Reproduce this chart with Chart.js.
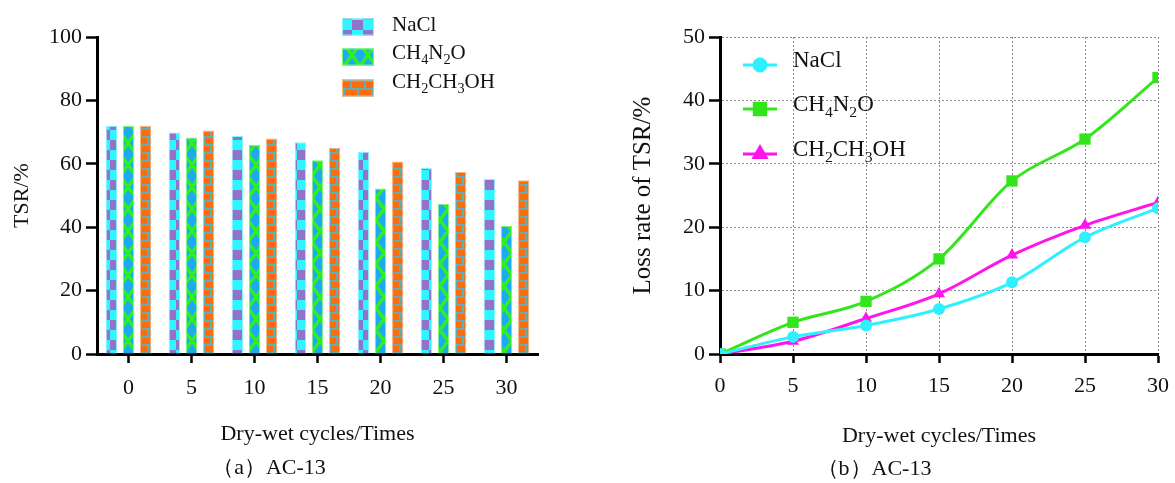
<!DOCTYPE html>
<html>
<head>
<meta charset="utf-8">
<script src="https://cdn.jsdelivr.net/npm/chart.js@4.4.0/dist/chart.umd.min.js"></script>
<style>
  body { margin: 0; background: #fff; width: 1175px; height: 483px; overflow: hidden; position: relative; }
  #tsrChart { position: absolute; left: 0; top: 0; }
  #lossChart { position: absolute; left: 590px; top: 0; }
</style>
</head>
<body>
<canvas id="tsrChart" width="590" height="483"></canvas>
<canvas id="lossChart" width="585" height="483"></canvas>
<script>
// dry-wet cycles
const cycles = ['0', '5', '10', '15', '20', '25', '30'];
const cycleNums = [0, 5, 10, 15, 20, 25, 30];
const seriesNames = ['NaCl', 'CH4N2O', 'CH2CH3OH'];

// (a) TSR/%
const tsrNaCl = [72.0, 69.9, 68.8, 66.8, 63.8, 58.7, 55.3];
const tsrUrea = [72.0, 68.3, 66.0, 61.1, 52.2, 47.4, 40.4];
const tsrEthanol = [72.0, 70.5, 68.0, 65.1, 60.7, 57.4, 54.8];
const tsrTicks = [0, 20, 40, 60, 80, 100];

// (b) loss rate of TSR/%
const lossNaCl = [0, 2.7, 4.5, 7.1, 11.3, 18.4, 23.0];
const lossUrea = [0, 5.0, 8.3, 15.0, 27.3, 33.9, 43.6];
const lossEthanol = [0, 2.0, 5.6, 9.5, 15.6, 20.3, 23.9];
const lossTicks = [0, 10, 20, 30, 40, 50];

const FONT = '"Liberation Serif", "Times New Roman", serif';
const INK = '#111';

function makePattern(w, h, draw) {
  const c = document.createElement('canvas');
  c.width = w; c.height = h;
  const g = c.getContext('2d');
  draw(g, w, h);
  return document.getElementById('tsrChart').getContext('2d').createPattern(c, 'repeat');
}

const patNaCl = makePattern(22, 20, (g) => {
  g.fillStyle = '#2ef6ff'; g.fillRect(0, 0, 22, 20);
  g.fillStyle = '#9372c9';
  g.fillRect(0, 0, 11, 10);
  g.fillRect(11, 10, 11, 10);
});
const patUrea = makePattern(16, 22, (g) => {
  g.fillStyle = '#2ef01e'; g.fillRect(0, 0, 16, 22);
  g.fillStyle = '#1eaaf2';
  const dia = (cx, cy) => {
    g.beginPath();
    g.moveTo(cx, cy - 8); g.lineTo(cx + 6, cy); g.lineTo(cx, cy + 8); g.lineTo(cx - 6, cy);
    g.closePath(); g.fill();
  };
  dia(8, 11); dia(0, 0); dia(16, 0); dia(0, 22); dia(16, 22);
});
const patEthanol = makePattern(14, 16, (g) => {
  g.fillStyle = '#ff6a0d'; g.fillRect(0, 0, 14, 16);
  g.fillStyle = '#5fb0b0';
  g.fillRect(0, 0, 14, 2);
  g.fillRect(0, 8, 14, 2);
  g.fillRect(0, 0, 2, 8);
  g.fillRect(7, 8, 2, 8);
});

// chemical formula with subscript digits
function drawFormula(ctx, text, x, y, size) {
  let cx = x;
  const parts = text.match(/\d+|\D+/g);
  parts.forEach(p => {
    const sub = /\d/.test(p);
    ctx.font = (sub ? size * 0.68 : size) + 'px ' + FONT;
    ctx.fillText(p, cx, sub ? y + size * 0.24 : y);
    cx += ctx.measureText(p).width;
  });
}

const barLegend = {
  id: 'barLegend',
  afterDraw(chart) {
    const ctx = chart.ctx;
    const rows = [27, 57, 88];
    const base = [31, 59, 88];
    ctx.save();
    chart.data.datasets.forEach((ds, i) => {
      ctx.fillStyle = ds.backgroundColor;
      ctx.fillRect(342, rows[i] - 8.5, 32, 17);
      ctx.strokeStyle = ds.borderColor;
      ctx.lineWidth = 1;
      ctx.strokeRect(342.5, rows[i] - 8, 31, 16);
      ctx.fillStyle = INK;
      ctx.textBaseline = 'alphabetic';
      drawFormula(ctx, seriesNames[i], 392, base[i], 21);
    });
    ctx.restore();
  }
};

const lineLegend = {
  id: 'lineLegend',
  afterDraw(chart) {
    const ctx = chart.ctx;
    const rows = [65, 109, 154];
    ctx.save();
    chart.data.datasets.forEach((ds, i) => {
      const y = rows[i];
      ctx.strokeStyle = ds.borderColor;
      ctx.lineWidth = 3;
      ctx.beginPath(); ctx.moveTo(153, y); ctx.lineTo(187, y); ctx.stroke();
      Chart.helpers.drawPoint(ctx, {
        pointStyle: ds.pointStyle, radius: ds.pointRadius, rotation: 0, borderWidth: 1
      }, 170, y);
      ctx.fillStyle = ds.borderColor;
      ctx.fill();
      ctx.fillStyle = INK;
      ctx.textBaseline = 'alphabetic';
      drawFormula(ctx, seriesNames[i], 203, y + 2, 23);
    });
    ctx.restore();
  }
};

const tickFont = { family: FONT, size: 22 };
const titleFont = { family: FONT, size: 22 };

new Chart(document.getElementById('tsrChart').getContext('2d'), {
  type: 'bar',
  data: {
    labels: cycles,
    datasets: [
      { label: seriesNames[0], data: tsrNaCl, backgroundColor: patNaCl, borderColor: '#7ff6ff', borderWidth: 1 },
      { label: seriesNames[1], data: tsrUrea, backgroundColor: patUrea, borderColor: '#7ef56e', borderWidth: 1 },
      { label: seriesNames[2], data: tsrEthanol, backgroundColor: patEthanol, borderColor: '#ffb27a', borderWidth: 1 }
    ]
  },
  options: {
    responsive: false,
    animation: false,
    layout: { padding: { left: 0, right: 52, top: 37, bottom: 0 } },
    datasets: { bar: { categoryPercentage: 0.815, barPercentage: 0.67 } },
    plugins: {
      legend: { display: false },
      tooltip: { enabled: false },
      subtitle: {
        display: true, position: 'bottom', text: '（a）AC-13',
        font: titleFont, color: INK, padding: { top: 0, bottom: 2 }
      }
    },
    scales: {
      x: {
        grid: { offset: false, drawOnChartArea: false, tickLength: 9, tickColor: '#000', tickWidth: 2.5 },
        border: { color: '#000', width: 3 },
        ticks: { font: tickFont, color: INK, padding: 12 },
        title: { display: true, text: 'Dry-wet cycles/Times', font: titleFont, color: INK, padding: { top: 0, bottom: 7 } },
        afterFit: s => { s.height = 100.6; }
      },
      y: {
        min: 0, max: 100,
        afterBuildTicks: s => { s.ticks = tsrTicks.map(v => ({ value: v })); },
        grid: { drawOnChartArea: false, tickLength: 11, tickColor: '#000', tickWidth: 2.5 },
        border: { color: '#000', width: 3 },
        ticks: { font: tickFont, color: INK, padding: 4 },
        title: { display: true, text: 'TSR/%', font: titleFont, color: INK, padding: { top: 9, bottom: 0 } },
        afterFit: s => { s.width = 97; }
      }
    }
  },
  plugins: [barLegend]
});

const toPoints = arr => arr.map((v, i) => ({ x: cycleNums[i], y: v }));

new Chart(document.getElementById('lossChart').getContext('2d'), {
  type: 'line',
  data: {
    datasets: [
      { label: seriesNames[0], data: toPoints(lossNaCl), borderColor: '#2ef0ff', backgroundColor: '#2ef0ff', pointStyle: 'circle', pointRadius: 6 },
      { label: seriesNames[1], data: toPoints(lossUrea), borderColor: '#33e61c', backgroundColor: '#33e61c', pointStyle: 'rect', pointRadius: 8 },
      { label: seriesNames[2], data: toPoints(lossEthanol), borderColor: '#ff14ec', backgroundColor: '#ff14ec', pointStyle: 'triangle', pointRadius: 7 }
    ]
  },
  options: {
    responsive: false,
    animation: false,
    layout: { padding: { left: 0, right: 17, top: 37, bottom: 0 } },
    elements: {
      line: { borderWidth: 3, cubicInterpolationMode: 'monotone' },
      point: { borderWidth: 0 }
    },
    plugins: {
      legend: { display: false },
      tooltip: { enabled: false },
      subtitle: {
        display: true, position: 'bottom', text: '（b）AC-13',
        font: titleFont, color: INK, padding: { top: 0, bottom: 1 }
      }
    },
    scales: {
      x: {
        type: 'linear', min: 0, max: 30,
        afterBuildTicks: s => { s.ticks = cycleNums.map(v => ({ value: v })); },
        grid: { color: '#8a8a8a', lineWidth: 1, tickLength: 9, tickColor: '#000', tickWidth: 2.5 },
        border: { color: '#000', width: 3, dash: [2, 2] },
        ticks: { font: tickFont, color: INK, padding: 10 },
        title: { display: true, text: 'Dry-wet cycles/Times', font: titleFont, color: INK, padding: { top: 0, bottom: 6 } },
        afterFit: s => { s.height = 101.6; s.paddingLeft = 0; s.paddingRight = 0; }
      },
      y: {
        min: 0, max: 50,
        afterBuildTicks: s => { s.ticks = lossTicks.map(v => ({ value: v })); },
        grid: { color: '#8a8a8a', lineWidth: 1, tickLength: 11, tickColor: '#000', tickWidth: 2.5 },
        border: { color: '#000', width: 3, dash: [2, 2] },
        ticks: { font: tickFont, color: INK, padding: 4 },
        title: { display: true, text: 'Loss rate of TSR/%', font: { family: FONT, size: 25 }, color: INK, padding: { top: 38, bottom: 0 } },
        afterFit: s => { s.width = 130; }
      }
    }
  },
  plugins: [lineLegend]
});
</script>
</body>
</html>
